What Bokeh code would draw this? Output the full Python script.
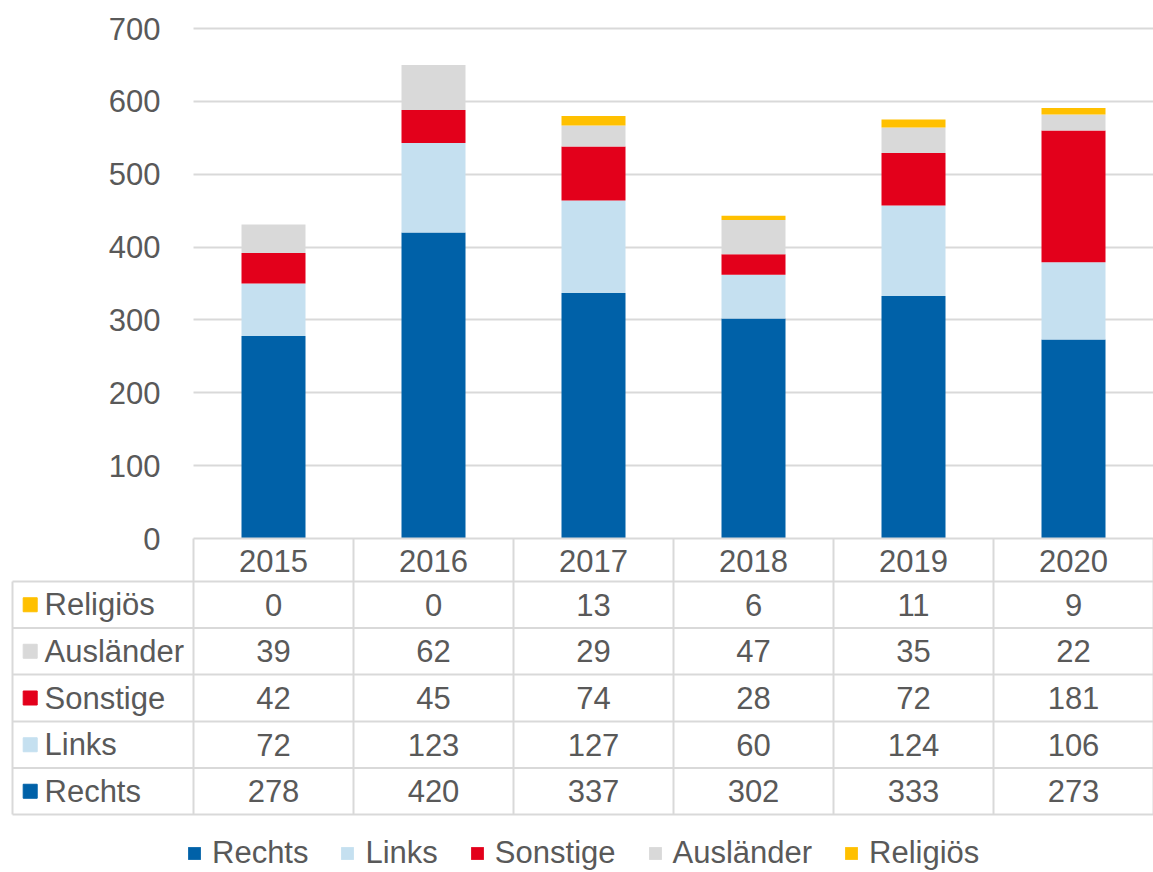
from bokeh.plotting import figure
from bokeh.models import Range1d, FixedTicker, ColumnDataSource, BasicTickFormatter
from bokeh.core.properties import value
from bokeh.embed import file_html
from bokeh.resources import INLINE

# ---------------- data ----------------
years = [2015, 2016, 2017, 2018, 2019, 2020]
series = ["Rechts", "Links", "Sonstige", "Ausländer", "Religiös"]
keys = ["rechts", "links", "sonstige", "auslaender", "religioes"]
rechts = [278, 420, 337, 302, 333, 273]
links = [72, 123, 127, 60, 124, 106]
sonstige = [42, 45, 74, 28, 72, 181]
auslaender = [39, 62, 29, 47, 35, 22]
religioes = [0, 0, 13, 6, 11, 9]
colors = ["#0061a8", "#c5e0f0", "#e3001b", "#d9d9d9", "#ffc000"]
y_ticks = [0, 100, 200, 300, 400, 500, 600, 700]

# ---------------- layout ----------------
W, H = 1153, 872
FONT = "Liberation Sans"
TXT = "#595959"
LINE = "#d9d9d9"
FS = "31px"
PX_X = 160.0            # px per year column
PX_Y = 510.0 / 700.0    # px per unit
CHART_LEFT_PX = 193     # canvas x of chart area left
CHART_ZERO_PX = 538     # canvas y of value 0

x_left = years[0] - 0.5
x_start = x_left - CHART_LEFT_PX / PX_X
x_end = x_left + (W - CHART_LEFT_PX) / PX_X
y_end = CHART_ZERO_PX / PX_Y
y_start = -(H - CHART_ZERO_PX) / PX_Y


def xd(px):
    return x_start + px / PX_X


def yd(py):
    return y_end - py / PX_Y


p = figure(width=W, height=H, x_range=Range1d(x_start, x_end),
           y_range=Range1d(y_start, y_end), output_backend="svg",
           toolbar_location=None, outline_line_color=None, min_border=0)
p.min_border_left = 0
p.min_border_right = 0
p.min_border_top = 0
p.min_border_bottom = 0
p.background_fill_color = "white"

# ---------------- grid ----------------
p.xgrid.visible = False
p.ygrid.ticker = FixedTicker(ticks=y_ticks[1:])
p.ygrid.grid_line_color = LINE
p.ygrid.grid_line_width = 2
try:
    p.ygrid.cross_bounds = (x_left, x_end)
except Exception:
    p.ygrid.visible = False
    p.segment(x0=[x_left] * 7, x1=[x_end] * 7, y0=y_ticks[1:], y1=y_ticks[1:],
              line_color=LINE, line_width=2)

# ---------------- bars ----------------
src = ColumnDataSource(dict(year=years, rechts=rechts, links=links, sonstige=sonstige,
                            auslaender=auslaender, religioes=religioes))
p.vbar_stack(keys, x="year", width=0.4, fill_color=colors, line_color=None,
             source=src, legend_label=series)

# ---------------- axes ----------------
ya = p.yaxis[0]
ya.ticker = FixedTicker(ticks=y_ticks)
ya.fixed_location = x_left
ya.axis_line_color = None
ya.major_tick_line_color = None
ya.minor_tick_line_color = None
ya.major_label_text_font = FONT
ya.major_label_text_font_size = FS
ya.major_label_text_color = TXT
ya.major_label_standoff = 27

xa = p.xaxis[0]
xa.ticker = FixedTicker(ticks=years)
xa.formatter = BasicTickFormatter(use_scientific=False)
xa.fixed_location = 0
xa.axis_line_color = None
xa.major_tick_line_color = None
xa.minor_tick_line_color = None
xa.major_label_text_font = FONT
xa.major_label_text_font_size = FS
xa.major_label_text_color = TXT
xa.major_label_standoff = 5

# ---------------- data table ----------------
row_lines = [581, 627.5, 674, 721, 767.5, 814]
table_left = 12
hx0 = [x_left] + [xd(table_left)] * len(row_lines)
hy = [yd(CHART_ZERO_PX)] + [yd(v) for v in row_lines]
p.segment(x0=hx0, x1=[x_end + 1] * len(hx0), y0=hy, y1=hy, line_color=LINE, line_width=2)
vx = [xd(table_left)] + [x_left + k for k in range(len(years) + 1)]
vy0 = [yd(row_lines[0])] + [yd(CHART_ZERO_PX)] * (len(years) + 1)
p.segment(x0=vx, x1=vx, y0=vy0, y1=[yd(row_lines[-1])] * len(vx), line_color=LINE, line_width=2)

rows_names = list(reversed(series))
rows_colors = list(reversed(colors))
rows_vals = [religioes, auslaender, sonstige, links, rechts]
centers = [yd((row_lines[i] + row_lines[i + 1]) / 2) for i in range(len(rows_names))]

p.scatter(x=[xd(29.7)] * len(rows_names), y=centers, marker="square", size=14,
          color=rows_colors)
p.text(x=[xd(44)] * len(rows_names), y=centers, text=rows_names,
       text_font=value(FONT), text_font_size=FS, text_color=TXT,
       text_align="left", text_baseline="middle")
for c, vals in zip(centers, rows_vals):
    p.text(x=years, y=[c] * len(years), text=[str(v) for v in vals],
           text_font=value(FONT), text_font_size=FS, text_color=TXT,
           text_align="center", text_baseline="middle")

# ---------------- legend ----------------
lg = p.legend[0]
lg.orientation = "horizontal"
lg.location = (186, 1)
lg.label_text_font = FONT
lg.label_text_font_size = FS
lg.label_text_color = TXT
lg.glyph_width = 16
lg.glyph_height = 16
lg.label_standoff = 10
lg.spacing = 31
lg.padding = 0
lg.margin = 0
lg.border_line_color = None
lg.background_fill_alpha = 0

open("out.html", "w").write(file_html(p, INLINE))
